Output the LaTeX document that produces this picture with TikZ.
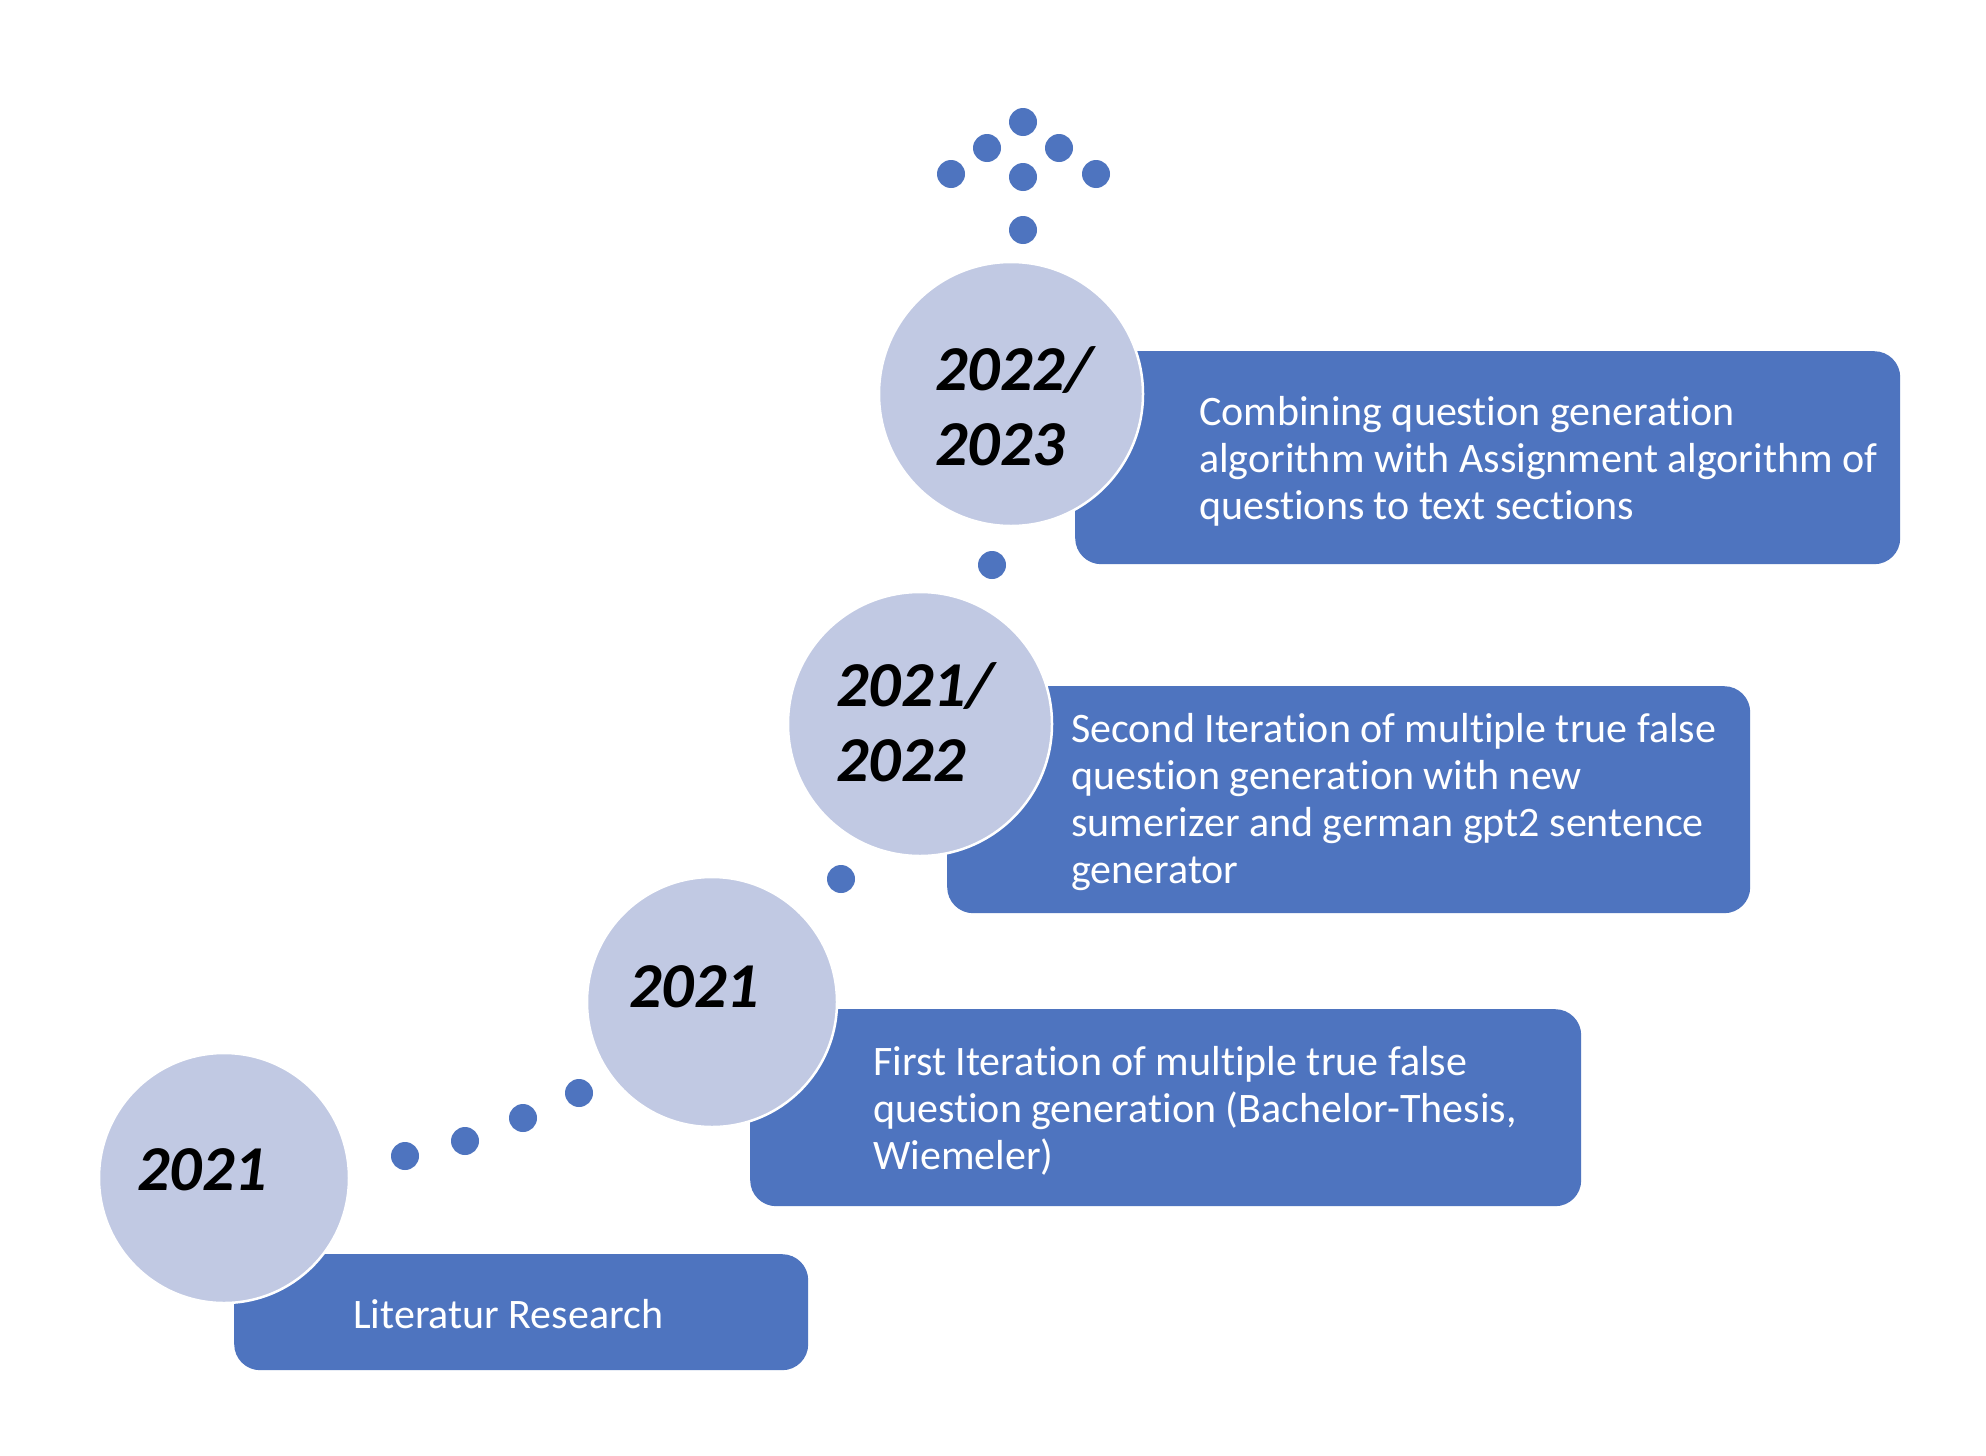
\documentclass[tikz,border=0pt]{standalone}
\usepackage{fontspec}
\setmainfont{Carlito}[Ligatures=NoCommon]
\definecolor{boxblue}{HTML}{4E74BF}
\definecolor{circfill}{HTML}{C1C9E3}
\begin{document}
\begin{tikzpicture}[x=1pt,y=-1pt,
  stagebox/.style={fill=boxblue, draw=none, rounded corners=26pt, anchor=north west, inner sep=0pt},
  yearcirc/.style={circle, fill=circfill, draw=white, line width=2.5pt, inner sep=0pt},
  dotnode/.style={circle, fill=boxblue, draw=none, minimum size=28pt, inner sep=0pt},
  boxtext/.style={anchor=west, align=left, text=white, inner sep=0pt, font=\fontsize{42}{47}\selectfont},
  yeartext/.style={align=left, inner sep=0pt, text=black, font=\fontsize{64}{75}\selectfont\bfseries\itshape}
]
\useasboundingbox (0,0) rectangle (1986,1456);
\fill[white] (0,0) rectangle (1986,1456);

% boxes
\node[stagebox, minimum width=574pt, minimum height=116pt] (b1) at (234,1254) {};
\node[stagebox, minimum width=831pt, minimum height=197pt] (b2) at (750,1009) {};
\node[stagebox, minimum width=803pt, minimum height=227pt] (b3) at (947,686) {};
\node[stagebox, minimum width=825pt, minimum height=213pt] (b4) at (1075,351) {};

% circles
\node[yearcirc, minimum size=250pt] (c1) at (224,1178) {};
\node[yearcirc, minimum size=250pt] (c2) at (712,1002) {};
\node[yearcirc, minimum size=264pt] (c3) at (920,724) {};
\node[yearcirc, minimum size=264pt] (c4) at (1011,394) {};

% year labels
\node[yeartext, anchor=west] (y1) at (137,1170) {2021};
\node[yeartext, anchor=west] (y2) at (629,987) {2021};
\node[yeartext, anchor=west] (y3) at (836,722) {2021/\\2022};
\node[yeartext, anchor=west] (y4) at (935,406) {2022/\\2023};

% box texts
\node[boxtext] (t1) at (353,1314) {Literatur Research};
\node[boxtext] (t2) at (873,1111) {First Iteration of multiple true false\\question generation (Bachelor-Thesis,\\Wiemeler)};
\node[boxtext] (t3) at (1071,802) {Second Iteration of multiple true false\\question generation with new\\sumerizer and german gpt2 sentence\\generator};
\node[boxtext] (t4) at (1199,461) {Combining question generation\\algorithm with Assignment algorithm of\\questions to text sections};

% dots
\node[dotnode] (d1) at (405,1156) {};
\node[dotnode] (d2) at (465,1141) {};
\node[dotnode] (d3) at (523,1118) {};
\node[dotnode] (d4) at (579,1093) {};
\node[dotnode] (d5) at (841,879) {};
\node[dotnode] (d6) at (992,565) {};
\node[dotnode] (d7) at (1023,230) {};
% arrow of dots
\node[dotnode] (a1) at (1023,122) {};
\node[dotnode] (a2) at (987,148) {};
\node[dotnode] (a3) at (1059,148) {};
\node[dotnode] (a4) at (951,174) {};
\node[dotnode] (a5) at (1096,174) {};
\node[dotnode] (a6) at (1023,177) {};
\end{tikzpicture}
\end{document}
